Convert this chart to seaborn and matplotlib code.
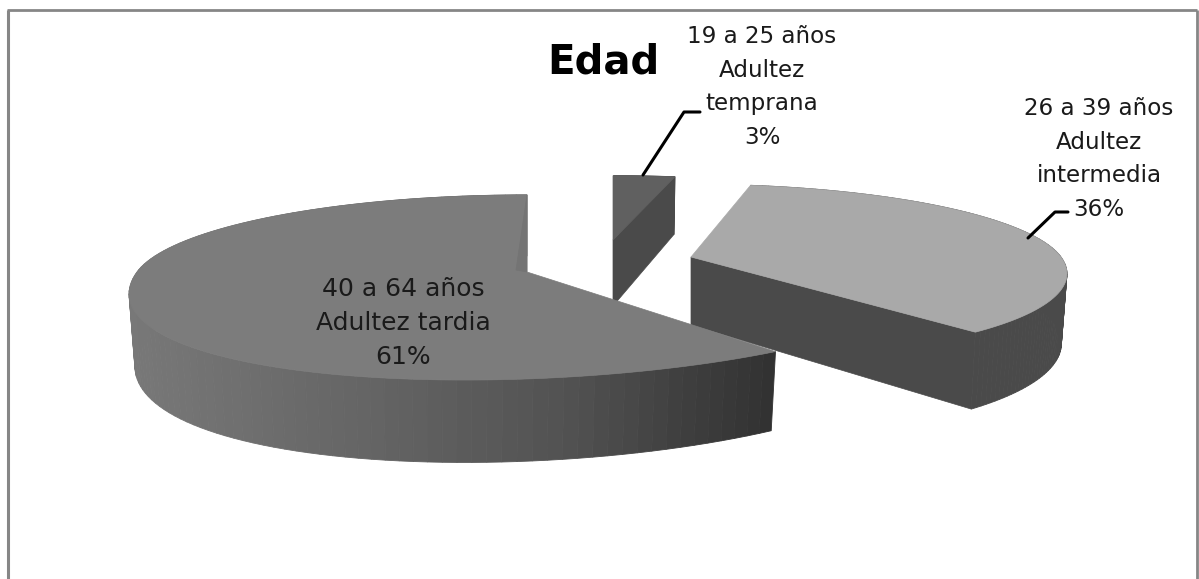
import numpy as np
import matplotlib
matplotlib.use('Agg')
import matplotlib.pyplot as plt
from matplotlib.patches import Polygon
import seaborn as sns

rangos = ['19 a 25 años', '26 a 39 años', '40 a 64 años']
etapas = [['Adultez', 'temprana'], ['Adultez', 'intermedia'], ['Adultez tardia']]
porcentajes = [3, 36, 61]

sns.set_theme(style='white')
plt.rcParams['font.family'] = ['DejaVu Sans']

GRIS = '#868686'
K = 0.167

# tip x, tip y, radius, vertical radius, shear, depth, top colour, side colour
geom = [
    (613, 240, 385, 75, 0, 66, '#606060', '#4a4a4a'),
    (691, 257, 370, 85, -23, 68, '#a9a9a9', '#4a4a4a'),
    (527, 272, 390, 90, 62, 70, '#7c7c7c', None),
]
rampa = sns.blend_palette(['#787878', '#666666', '#525252', '#303030'], as_cmap=True)


def project(x, y, g, abajo=False):
    s = 1 / (1 + K * y)
    f = 0.985 if abajo else 1
    px = g[0] + f * g[2] * x * s - g[4] * min(y, 0) ** 2
    py = g[1] - f * g[3] * y * s
    if abajo:
        py += g[5] * s
    return px, py


def draw_slice(ax, wedge, g):
    theta = np.radians(np.linspace(wedge.theta1, wedge.theta2, 120))
    wx, wy = np.cos(theta), np.sin(theta)
    top = [project(x, y, g) for x, y in zip(wx, wy)]
    bottom = [project(x, y, g, True) for x, y in zip(wx, wy)]
    tip = (g[0], g[1])
    tip_bottom = project(0, 0, g, True)

    # wall on the low angle cut
    if g[7] is not None:
        ax.add_patch(Polygon([tip, top[0], bottom[0], tip_bottom], fc=g[7], ec=g[7], lw=0.5))

    # rim, back to front
    for i in np.argsort(-wy[:-1]):
        quad = [top[i], top[i + 1], bottom[i + 1], bottom[i]]
        if g[7] is not None:
            c = g[7]
        else:
            c = rampa((top[i][0] - 128) / (775 - 128))
        ax.add_patch(Polygon(quad, fc=c, ec=c, lw=0.6))

    ax.add_patch(Polygon([tip] + top, fc=g[6], ec=g[6], lw=0.5))


fig = plt.figure(figsize=(11.99, 5.79), dpi=100)
ax = fig.add_axes([0, 0, 1, 1])

wedges, _ = ax.pie(porcentajes, startangle=90, counterclock=False)
for w in wedges:
    w.set_visible(False)

for w, g in zip(wedges, geom):
    draw_slice(ax, w, g)

# darker inner face next to the main slice's top corner
g = geom[2]
ax.add_patch(Polygon([project(0, 1, g), (g[0] - 11, g[1] - 2), (g[0], g[1])], fc='#747474', ec='#747474', lw=0.5))

ax.set_aspect('auto')
ax.set_xlim(0, 1199)
ax.set_ylim(579, 0)
ax.set_axis_off()

# chart frame, no bottom edge in the crop
ax.plot([7.5, 7.5], [579, 10], color=GRIS, lw=2.2, solid_capstyle='butt')
ax.plot([6.5, 1197], [10, 10], color=GRIS, lw=2, solid_capstyle='butt')
ax.plot([1197, 1197], [10, 579], color=GRIS, lw=2, solid_capstyle='butt')

# leader lines
ax.plot([643, 684, 700], [175, 112, 112], color='black', lw=2.2)
ax.plot([1028, 1055, 1068], [238, 212, 212], color='black', lw=2.2)

ax.text(603, 62, 'Edad', fontsize=29, fontweight='bold', ha='center', va='center', color='black')

posiciones = [(762, 87), (1099, 159), (403, 323)]
tamanos = [16.6, 16.6, 18]
espacios = [1.58, 1.58, 1.55]
for r, e, p, (x, y), t, sp in zip(rangos, etapas, porcentajes, posiciones, tamanos, espacios):
    texto = '\n'.join([r] + e + ['%d%%' % p])
    ax.text(x, y, texto, fontsize=t, ha='center', va='center', linespacing=sp, color='#1a1a1a')

plt.savefig('out.png', dpi=100)
